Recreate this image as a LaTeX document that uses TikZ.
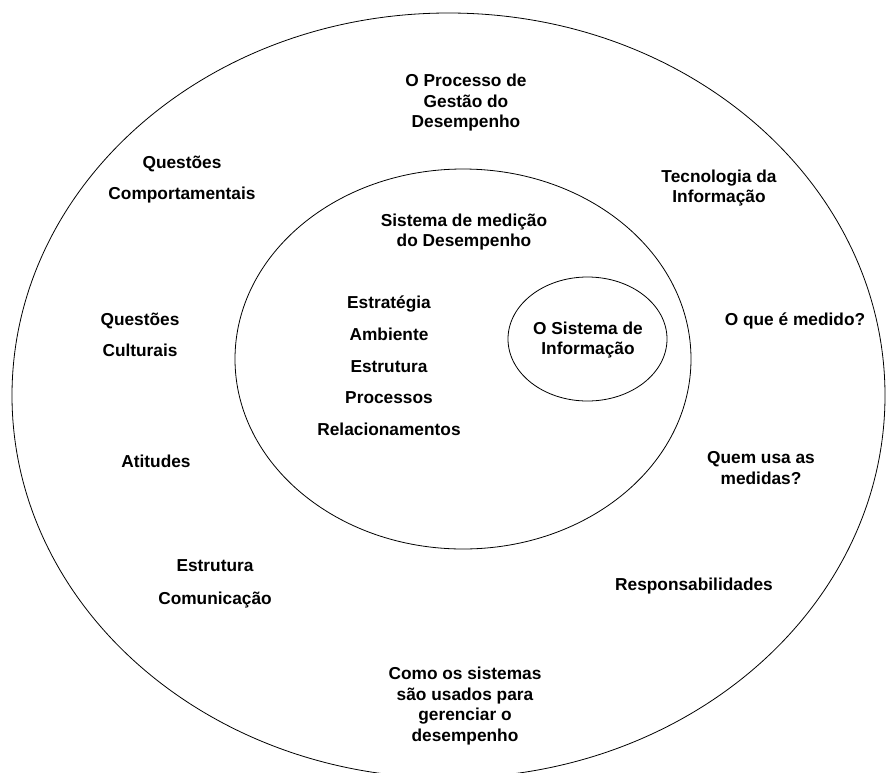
\documentclass[tikz,border=0pt]{standalone}
\usepackage{fontspec}
\setmainfont{Liberation Sans}
\begin{document}
\begin{tikzpicture}[x=1pt,y=-1pt,
  ring/.style={draw=black,line width=0.8pt},
  lbl/.style={font=\bfseries\fontsize{17.3}{20.5}\selectfont,align=center,inner sep=0pt},
  widelbl/.style={font=\bfseries\fontsize{17.3}{31.5}\selectfont,align=center,inner sep=0pt}]
\useasboundingbox (0,0) rectangle (886,772);
\clip (0,0) rectangle (886,772);
% three nested ellipses
\draw[ring] (448.5,395.5) ellipse [x radius=436.5pt, y radius=382.5pt];
\draw[ring] (463,359) ellipse [x radius=228pt, y radius=190pt];
\draw[ring] (587.5,339) ellipse [x radius=79.5pt, y radius=62pt];

% outer ring
\node[lbl] (gestao) at (466,103) {O Processo de\\Gestão do\\Desempenho};
\node[widelbl] (comport) at (182,179.5) {Questões\\Comportamentais};
\node[lbl] (ti) at (719,188) {Tecnologia da\\Informação};
\node[widelbl] (cult) at (140,335) {Questões\\Culturais};
\node[lbl] (medido) at (795,321) {O que é medido?};
\node[lbl] (atit) at (156,461) {Atitudes};
\node[lbl] (quem) at (761,468) {Quem usa as\\medidas?};
\node[widelbl,font=\bfseries\fontsize{17.3}{33}\selectfont] (estcom) at (215,584) {Estrutura\\Comunicação};
\node[lbl] (resp) at (694,586) {Responsabilidades};
\node[lbl] (como) at (465,706) {Como os sistemas\\são usados para\\gerenciar o\\desempenho};

% middle ring
\node[lbl] (medicao) at (464,232) {Sistema de medição\\do Desempenho};
\node[widelbl,font=\bfseries\fontsize{17.3}{31.7}\selectfont] (lista) at (389,366) {Estratégia\\Ambiente\\Estrutura\\Processos\\Relacionamentos};

% inner ring
\node[lbl] (si) at (588,340) {O Sistema de\\Informação};
\end{tikzpicture}
\end{document}
